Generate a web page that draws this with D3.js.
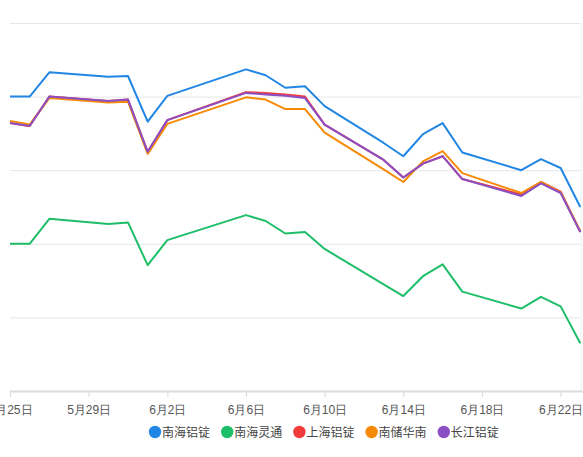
<!DOCTYPE html>
<html>
<head>
<meta charset="utf-8">
<script src="https://cdn.jsdelivr.net/npm/d3@7"></script>
<style>
  body { margin: 0; background: #fff; }
  svg { display: block; font-family: "Noto Sans CJK SC", "Noto Sans", sans-serif; }
</style>
</head>
<body>
<div id="chart"></div>
<script>
// dates (2020), every point
const dates = ['05-25', '05-26', '05-27', '05-30', '05-31', '06-01', '06-02', '06-06', '06-07', '06-08',
  '06-09', '06-10', '06-13', '06-14', '06-15', '06-16', '06-17', '06-20', '06-21', '06-22', '06-23']
const tickDates = ['05-25', '05-29', '06-02', '06-06', '06-10', '06-14', '06-18', '06-22']
const seriesNames = ['南海铝锭', '南海灵通', '上海铝锭', '南储华南', '长江铝锭']
const colors = ['#2186e4', '#1ebe69', '#f23c3c', '#f68a07', '#8b4fc3']

const nanhaiIngot = [14000, 14000, 14033, 14027, 14028, 13966, 14001, 14037, 14029, 14012,
  14014, 13987, 13937, 13919, 13949, 13964, 13924, 13900, 13915, 13903, 13850]
const nanhaiLingtong = [13800, 13800, 13834, 13827, 13829, 13771, 13805, 13839, 13831, 13814,
  13816, 13793, 13745, 13729, 13756, 13772, 13735, 13712, 13728, 13715, 13665]
const shanghaiIngot = [13964, 13960, 14000, 13994, 13996, 13925, 13968, 14006, 14005, 14003,
  14000, 13962, 13914, 13890, 13909, 13919, 13888, 13867, 13884, 13871, 13816]
const nanchuSouth = [13967, 13962, 13998, 13992, 13993, 13922, 13963, 13999, 13996, 13983,
  13983, 13951, 13901, 13884, 13912, 13926, 13896, 13869, 13884, 13870, 13817]
const changjiangIngot = [13964, 13960, 14000, 13994, 13996, 13925, 13968, 14005, 14003, 14001,
  13998, 13962, 13914, 13890, 13909, 13919, 13888, 13865, 13882, 13869, 13816]

const allSeries = [nanhaiIngot, nanhaiLingtong, shanghaiIngot, nanchuSouth, changjiangIngot]

const parseDate = d3.timeParse('%Y-%m-%d')
const toDate = (s) => parseDate('2020-' + s)

let svgWidth = 583,
  svgHeight = 457
let margin = { top: 23, right: 3, bottom: 66, left: 10 }
let width = svgWidth - margin.left - margin.right
let height = svgHeight - margin.top - margin.bottom

let svg = d3
  .select('#chart')
  .append('svg')
  .attr('width', svgWidth)
  .attr('height', svgHeight)

let g = svg.append('g').attr('transform', 'translate(' + margin.left + ',' + margin.top + ')')

let x = d3.scaleTime()
  .domain([toDate(dates[0]), toDate(dates[dates.length - 1])])
  .range([0, 570.3])
let y = d3.scaleLinear().domain([13600, 14100]).range([height, 0])

// grid lines (the y labels sit outside the cropped picture)
g.append('g')
  .attr('class', 'grid')
  .call(d3.axisLeft(y).ticks(5).tickSize(-570.3).tickFormat(''))
  .call((s) => s.select('.domain').remove())
  .call((s) => s.selectAll('line').attr('stroke', '#e6e6e6').attr('stroke-width', 1))

// right edge
g.append('line')
  .attr('x1', 571).attr('x2', 571)
  .attr('y1', 0).attr('y2', height)
  .attr('stroke', '#eeeeee')

// x axis
let xAxis = d3.axisBottom(x)
  .tickValues(tickDates.map(toDate))
  .tickSize(6)
  .tickPadding(8)
  .tickFormat(d3.timeFormat('%-m月%-d日'))

let xg = g.append('g')
  .attr('transform', 'translate(0,' + height + ')')
  .call(xAxis)
xg.select('.domain').attr('stroke', '#dcdcdc').attr('stroke-width', 2).attr('d', 'M0,0.5H573')
xg.selectAll('.tick line').attr('stroke', '#dcdcdc').attr('stroke-width', 1.2)
xg.selectAll('.tick text').attr('fill', '#555').style('font-size', '12px')

// lines
let line = d3.line()
  .x((d, i) => x(toDate(dates[i])))
  .y((d) => y(d))

allSeries.forEach((s, i) => {
  g.append('path')
    .datum(s)
    .attr('d', line)
    .attr('fill', 'none')
    .attr('stroke', colors[i])
    .attr('stroke-width', 2)
    .attr('stroke-linejoin', 'round')
})

// legend
let legend = svg.append('g').attr('transform', 'translate(155,432)')
let item = legend.selectAll('g')
  .data(seriesNames)
  .enter()
  .append('g')
  .attr('transform', (d, i) => 'translate(' + i * 72.2 + ',0)')
item.append('circle')
  .attr('r', 6.2)
  .attr('fill', (d, i) => colors[i])
item.append('text')
  .attr('x', 7)
  .attr('y', 4.5)
  .attr('fill', '#444')
  .style('font-size', '12px')
  .text((d) => d)
</script>
</body>
</html>
